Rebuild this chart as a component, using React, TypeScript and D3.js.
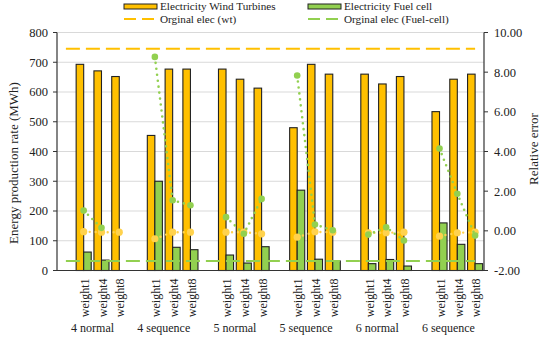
import React from "react";
import * as d3 from "d3";

const groups = ["4 normal", "4 sequence", "5 normal", "5 sequence", "6 normal", "6 sequence"];
const weights = ["weight1", "weight4", "weight8"];

const windTurbine = [693, 671, 652, 454, 677, 677, 677, 643, 613, 480, 693, 660, 660, 627, 652, 534, 643, 660];
const fuelCell = [62, 35, 0, 300, 78, 70, 52, 25, 80, 270, 38, 32, 23, 37, 15, 160, 88, 23];
const origWt = 745;
const origFc = 32;
const relErrWt = [-0.04, -0.07, -0.07, -0.4, -0.07, -0.07, -0.07, -0.07, -0.15, -0.32, -0.05, -0.07, -0.1, -0.1, -0.07, -0.27, -0.1, -0.07];
const relErrFc: (number | null)[] = [1.02, 0.15, null, 8.77, 1.54, 1.29, 0.69, -0.15, 1.61, 7.83, 0.32, 0.03, -0.19, 0.18, -0.49, 4.15, 1.87, -0.24];

const leftTicks = [0, 100, 200, 300, 400, 500, 600, 700, 800];
const rightTicks = [-2, 0, 2, 4, 6, 8, 10];

const ORANGE = "#FFC000";
const ORANGE_LIGHT = "#FFD24D";
const GREEN = "#92D050";
const FONT = '"Liberation Serif", "Times New Roman", "DejaVu Serif", serif';

export default function App() {
  const W = 550, H = 337;
  const L = 57, R = 484, T = 32.5, B = 270.5;

  const slots = d3.range(groups.length * 4);
  const x = d3.scaleBand<number>().domain(slots).range([L, R]).padding(0);
  const inner = d3.scaleBand<string>().domain(["wt", "fc"]).range([0, x.bandwidth()]).paddingInner(0).paddingOuter(0.18);
  const yL = d3.scaleLinear().domain([0, 800]).range([B, T]);
  const yR = d3.scaleLinear().domain([-2, 10]).range([B, T]);

  const slotOf = (i: number) => Math.floor(i / 3) * 4 + 1 + (i % 3);
  const cx = (s: number) => (x(s) as number) + x.bandwidth() / 2;

  const groupSeg = <T,>(arr: T[], g: number) => arr.slice(g * 3, g * 3 + 3);

  return (
    <div style={{ position: "fixed", left: 0, top: 0 }}>
      <svg width={W} height={H} style={{ display: "block", background: "#fff", fontFamily: FONT }}>
        {leftTicks.map((t) => (
          <line key={"g" + t} x1={L} x2={R} y1={yL(t)} y2={yL(t)} stroke="#D9D9D9" strokeWidth={1} />
        ))}
        {windTurbine.map((v, i) => {
          const s = slotOf(i);
          return (
            <rect key={"wt" + i} x={(x(s) as number) + (inner("wt") as number)} y={yL(v)} width={inner.bandwidth()} height={B - yL(v)}
              fill={ORANGE} stroke="#222" strokeWidth={1.1} />
          );
        })}
        {fuelCell.map((v, i) => {
          if (v <= 0) return null;
          const s = slotOf(i);
          return (
            <rect key={"fc" + i} x={(x(s) as number) + (inner("fc") as number)} y={yL(v)} width={inner.bandwidth()} height={B - yL(v)}
              fill={GREEN} stroke="#222" strokeWidth={1.1} />
          );
        })}
        <line x1={cx(0)} x2={cx(slots.length - 1)} y1={yL(origWt)} y2={yL(origWt)} stroke={ORANGE} strokeWidth={2} strokeDasharray="14,6" />
        <line x1={cx(0)} x2={cx(slots.length - 1)} y1={yL(origFc)} y2={yL(origFc)} stroke={GREEN} strokeWidth={2} strokeDasharray="14,6" />
        {groups.map((g, gi) => {
          const wt = groupSeg(relErrWt, gi);
          const lw = d3.line<number>().x((d, i) => cx(gi * 4 + 1 + i)).y((d) => yR(d));
          return <path key={"lw" + gi} d={lw(wt) || ""} fill="none" stroke={ORANGE_LIGHT} strokeWidth={2.4} strokeDasharray="0,6" strokeLinecap="round" />;
        })}
        {relErrWt.map((v, i) => (
          <circle key={"mw" + i} cx={cx(slotOf(i))} cy={yR(v)} r={3.6} fill={ORANGE_LIGHT} />
        ))}
        {groups.map((g, gi) => {
          const fc = groupSeg(relErrFc, gi);
          const lf = d3.line<number | null>().defined((d) => d !== null).x((d, i) => cx(gi * 4 + 1 + i)).y((d) => yR(d as number));
          return <path key={"lf" + gi} d={lf(fc) || ""} fill="none" stroke={GREEN} strokeWidth={2.6} strokeDasharray="0,6" strokeLinecap="round" />;
        })}
        {relErrFc.map((v, i) =>
          v === null ? null : <circle key={"mf" + i} cx={cx(slotOf(i))} cy={yR(v)} r={3.3} fill={GREEN} />
        )}
        <line x1={L} x2={L} y1={T} y2={B} stroke="#333" strokeWidth={1.2} />
        <line x1={R} x2={R} y1={T} y2={B} stroke="#333" strokeWidth={1.2} />
        <line x1={L} x2={R} y1={B} y2={B} stroke="#333" strokeWidth={1.2} />
        {leftTicks.map((t) => (
          <g key={"lt" + t}>
            <line x1={L - 4} x2={L} y1={yL(t)} y2={yL(t)} stroke="#333" strokeWidth={1} />
            <text x={L - 9} y={yL(t)} dy="0.35em" textAnchor="end" fontSize={12.5} fill="#222">{t}</text>
          </g>
        ))}
        {rightTicks.map((t) => (
          <g key={"rt" + t}>
            <line x1={R} x2={R + 4} y1={yR(t)} y2={yR(t)} stroke="#333" strokeWidth={1} />
            <text x={R + 10} y={yR(t)} dy="0.35em" textAnchor="start" fontSize={12.5} fill="#222">{t.toFixed(2)}</text>
          </g>
        ))}
        {windTurbine.map((v, i) => {
          const s = slotOf(i);
          const px = cx(s) + 1;
          return (
            <text key={"cl" + i} transform={`translate(${px},${B + 8}) rotate(-90)`} textAnchor="end" dy="0.35em" fontSize={12} fill="#222">
              {weights[i % 3]}
            </text>
          );
        })}
        {groups.map((g, gi) => {
          const x0 = x(gi * 4) as number;
          const xc = x0 + x.bandwidth() * 2;
          return (
            <text key={"gl" + gi} x={xc} y={332} textAnchor="middle" fontSize={12} fill="#222">{g}</text>
          );
        })}
        <text transform={`translate(18,${163}) rotate(-90)`} textAnchor="middle" fontSize={13} fill="#222">Energy production rate (MWh)</text>
        <text transform={`translate(538,${149}) rotate(-90)`} textAnchor="middle" fontSize={13} fill="#222">Relative error</text>
        <g fontSize={11.2} fill="#222">
          <rect x={124} y={4} width={33} height={5} fill={ORANGE} stroke="#222" strokeWidth={1} />
          <text x={160} y={6.3} dy="0.35em">Electricity Wind Turbines</text>
          <line x1={124} x2={157} y1={19} y2={19} stroke={ORANGE} strokeWidth={2} strokeDasharray="12,6" />
          <text x={160} y={19.3} dy="0.35em">Orginal elec (wt)</text>
          <rect x={308} y={4} width={33} height={5} fill={GREEN} stroke="#222" strokeWidth={1} />
          <text x={344} y={6.3} dy="0.35em">Electricity Fuel cell</text>
          <line x1={308} x2={341} y1={19} y2={19} stroke={GREEN} strokeWidth={2} strokeDasharray="12,6" />
          <text x={344} y={19.3} dy="0.35em">Orginal elec (Fuel-cell)</text>
        </g>
      </svg>
    </div>
  );
}
